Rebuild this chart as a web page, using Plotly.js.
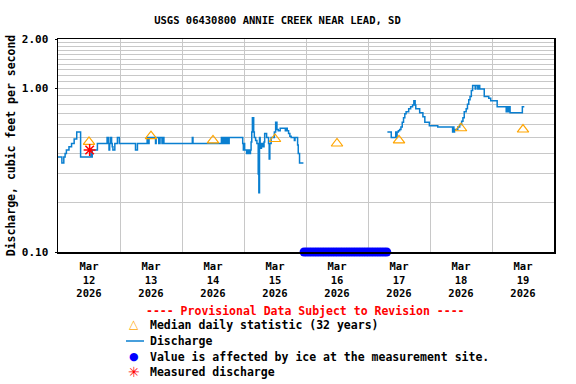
<!DOCTYPE html>
<html>
<head>
<meta charset="utf-8">
<script src="https://cdn.plot.ly/plotly-3.0.1.min.js"></script>
<style>html,body{margin:0;padding:0;background:#fff;}#chart{width:576px;height:384px;}</style>
</head>
<body>
<div id="chart"></div>
<script>
// ---- Data ----
const chartTitle = "USGS 06430800 ANNIE CREEK NEAR LEAD, SD";
const yTitle = "Discharge, cubic feet per second";

const dischargeTimes = [
"2026-03-12 00:00","2026-03-12 01:30","2026-03-12 02:15","2026-03-12 02:45","2026-03-12 03:15","2026-03-12 04:15",
"2026-03-12 05:15","2026-03-12 06:15","2026-03-12 07:15","2026-03-12 08:45","2026-03-12 12:45","2026-03-12 13:00",
"2026-03-12 13:15","2026-03-12 15:15","2026-03-12 19:00","2026-03-12 19:30","2026-03-12 19:45","2026-03-12 20:00",
"2026-03-12 20:15","2026-03-12 20:45","2026-03-12 21:00","2026-03-12 21:15","2026-03-12 22:00","2026-03-12 23:00",
"2026-03-12 23:45","2026-03-13 06:00","2026-03-13 06:45","2026-03-13 10:30","2026-03-13 11:00","2026-03-13 11:15",
"2026-03-13 13:45","2026-03-13 14:00","2026-03-13 15:00","2026-03-13 15:30","2026-03-13 16:15","2026-03-13 16:30",
"2026-03-13 17:00","2026-03-14 04:00","2026-03-14 04:15","2026-03-14 15:15","2026-03-14 15:30","2026-03-14 15:45",
"2026-03-14 16:15","2026-03-14 16:45","2026-03-14 17:00","2026-03-14 17:30","2026-03-14 18:00","2026-03-14 18:15",
"2026-03-14 23:30","2026-03-14 23:45","2026-03-15 00:00","2026-03-15 00:15","2026-03-15 01:00","2026-03-15 01:30",
"2026-03-15 02:00","2026-03-15 02:30","2026-03-15 02:45","2026-03-15 03:00","2026-03-15 03:15","2026-03-15 03:45",
"2026-03-15 04:00","2026-03-15 04:30","2026-03-15 05:00","2026-03-15 05:30","2026-03-15 05:45","2026-03-15 06:00",
"2026-03-15 06:15","2026-03-15 06:45","2026-03-15 07:15","2026-03-15 07:45","2026-03-15 08:00","2026-03-15 08:45",
"2026-03-15 09:30","2026-03-15 09:45","2026-03-15 10:00","2026-03-15 10:30","2026-03-15 11:45","2026-03-15 12:15",
"2026-03-15 12:45","2026-03-15 13:15","2026-03-15 14:00","2026-03-15 16:00","2026-03-15 16:30","2026-03-15 16:45",
"2026-03-15 17:15","2026-03-15 17:45","2026-03-15 18:15","2026-03-15 19:30","2026-03-15 19:45","2026-03-15 20:45",
"2026-03-15 21:00","2026-03-15 21:30","2026-03-15 23:00",
"2026-03-16 12:00",
"2026-03-17 07:30","2026-03-17 09:00","2026-03-17 10:45","2026-03-17 11:00","2026-03-17 11:15","2026-03-17 11:45",
"2026-03-17 12:15","2026-03-17 12:45","2026-03-17 13:15","2026-03-17 13:45","2026-03-17 14:15","2026-03-17 14:45",
"2026-03-17 15:45","2026-03-17 16:30","2026-03-17 17:15","2026-03-17 17:45","2026-03-17 18:15","2026-03-17 18:30",
"2026-03-17 20:00","2026-03-17 21:15","2026-03-17 22:00","2026-03-17 23:45","2026-03-18 03:00","2026-03-18 08:45",
"2026-03-18 09:00","2026-03-18 09:15","2026-03-18 09:30","2026-03-18 10:45","2026-03-18 11:30","2026-03-18 12:15",
"2026-03-18 12:45","2026-03-18 13:15","2026-03-18 14:00","2026-03-18 14:30","2026-03-18 15:00","2026-03-18 15:30",
"2026-03-18 16:00","2026-03-18 16:30","2026-03-18 17:30","2026-03-18 17:45","2026-03-18 18:30","2026-03-18 18:45",
"2026-03-18 19:15","2026-03-18 21:00","2026-03-18 22:45","2026-03-18 23:30","2026-03-19 02:00","2026-03-19 05:30",
"2026-03-19 05:45","2026-03-19 06:15","2026-03-19 06:30","2026-03-19 07:00","2026-03-19 11:45","2026-03-19 12:30"
];
const dischargeValues = [
0.38,0.35,0.38,0.40,0.42,0.44,
0.46,0.49,0.54,0.38,0.42,0.38,
0.42,0.46,0.50,0.46,0.42,0.46,
0.50,0.46,0.44,0.42,0.46,0.50,
0.46,0.42,0.46,0.50,0.46,0.50,
0.46,0.50,0.46,0.50,0.46,0.50,
0.46,0.50,0.46,0.50,0.46,0.50,
0.46,0.50,0.46,0.50,0.46,0.50,
0.46,0.42,0.46,0.42,0.40,0.42,
0.40,0.42,0.47,0.54,0.66,0.54,
0.50,0.48,0.46,0.30,0.23,0.50,
0.43,0.46,0.44,0.47,0.53,0.50,
0.46,0.37,0.46,0.50,0.54,0.62,
0.56,0.55,0.57,0.55,0.57,0.55,
0.53,0.51,0.50,0.48,0.50,0.45,
0.40,0.35,0.35,
null,
0.54,0.50,0.54,0.50,0.54,0.55,
0.56,0.58,0.62,0.66,0.70,0.72,
0.75,0.77,0.79,0.84,0.79,0.75,
0.71,0.67,0.62,0.59,0.58,0.54,
0.58,0.54,0.56,0.58,0.60,0.63,
0.66,0.72,0.75,0.80,0.85,0.89,
0.97,1.04,0.99,1.04,0.99,1.04,
0.99,0.89,0.87,0.84,0.77,0.72,
0.77,0.72,0.77,0.71,0.77,0.77
];

const medianDates = ["2026-03-12 12:00","2026-03-13 12:00","2026-03-14 12:00","2026-03-15 12:00",
                     "2026-03-16 12:00","2026-03-17 12:00","2026-03-18 12:00","2026-03-19 12:00"];
const medianValues = [0.47, 0.51, 0.48, 0.49, 0.46, 0.48, 0.57, 0.56];

const iceTimes = [
"2026-03-15 23:15","2026-03-16 00:15","2026-03-16 01:15","2026-03-16 02:15","2026-03-16 03:15","2026-03-16 04:15",
"2026-03-16 05:15","2026-03-16 06:15","2026-03-16 07:15","2026-03-16 08:15","2026-03-16 09:15","2026-03-16 10:15",
"2026-03-16 11:15","2026-03-16 12:15","2026-03-16 13:15","2026-03-16 14:15","2026-03-16 15:15","2026-03-16 16:15",
"2026-03-16 17:15","2026-03-16 18:15","2026-03-16 19:15","2026-03-16 20:15","2026-03-16 21:15","2026-03-16 22:15",
"2026-03-16 23:15","2026-03-17 00:15","2026-03-17 01:15","2026-03-17 02:15","2026-03-17 03:15","2026-03-17 04:15",
"2026-03-17 05:15","2026-03-17 06:15","2026-03-17 07:15"
];
const iceValue = 0.1;

const measuredTimes = ["2026-03-12 12:15"];
const measuredValues = [0.42];

const xTickVals = ["2026-03-12 12:00","2026-03-13 12:00","2026-03-14 12:00","2026-03-15 12:00",
                   "2026-03-16 12:00","2026-03-17 12:00","2026-03-18 12:00","2026-03-19 12:00"];
const xTickText = ["Mar<br>12<br>2026","Mar<br>13<br>2026","Mar<br>14<br>2026","Mar<br>15<br>2026",
                   "Mar<br>16<br>2026","Mar<br>17<br>2026","Mar<br>18<br>2026","Mar<br>19<br>2026"];
const yTickVals = [0.1, 1, 2];
const yTickText = ["0.10", "1.00", "2.00"];
const yGridVals = [0.2,0.3,0.4,0.5,0.6,0.7,0.8,0.9,1.1,1.2,1.3,1.4,1.5,1.6,1.7,1.8,1.9];

const legendHeader = "---- Provisional Data Subject to Revision ----";
const legendLabels = ["Median daily statistic (32 years)", "Discharge",
                      "Value is affected by ice at the measurement site.", "Measured discharge"];

// ---- Styling ----
const MONO = "DejaVu Sans Mono";
const lineColor = "#0a7fd0";
const gridColor = "#c8c8c8";
const L = 58, R = 554, T = 39, B = 252;
const px = x => (x - L) / (R - L);
const py = y => (B - y) / (B - T);

const traces = [
  { type: "scatter", mode: "lines", name: legendLabels[1], x: dischargeTimes, y: dischargeValues,
    line: { color: lineColor, width: 1.5, shape: "hv" }, connectgaps: false, showlegend: false, hoverinfo: "skip" },
  { type: "scatter", mode: "markers", name: legendLabels[0], x: medianDates, y: medianValues,
    marker: { symbol: "triangle-up-open", size: 10, color: "#ffa500", line: { width: 1.2, color: "#ffa500" } },
    showlegend: false },
  { type: "scatter", mode: "markers", name: legendLabels[2], x: iceTimes, y: iceTimes.map(() => iceValue),
    marker: { symbol: "circle", size: 9, color: "#0000ff" }, cliponaxis: false, showlegend: false },
  { type: "scatter", mode: "markers", name: legendLabels[3], x: measuredTimes, y: measuredValues,
    marker: { symbol: "asterisk-open", size: 10, color: "#ff0000", line: { width: 1.5, color: "#ff0000" } },
    showlegend: false }
];

const rowY = [325, 341, 356.7, 372.3];
const annotations = [
  { text: legendHeader, xref: "paper", yref: "paper", x: px(305), y: py(311), xanchor: "center", yanchor: "middle",
    showarrow: false, font: { family: MONO, size: 11.5, color: "#ff0000", weight: "bold" } }
];
legendLabels.forEach((t, i) => annotations.push({
  text: t, xref: "paper", yref: "paper", x: px(148), y: py(rowY[i]), xanchor: "left", yanchor: "middle",
  showarrow: false, font: { family: MONO, size: 11.5, color: "#000", weight: "bold" }
}));
annotations.push({ text: "△", xref: "paper", yref: "paper", x: px(133.5), y: py(rowY[0] - 1), xanchor: "center", yanchor: "middle",
  showarrow: false, font: { family: "DejaVu Sans", size: 12, color: "#ffa500" } });
annotations.push({ text: "●", xref: "paper", yref: "paper", x: px(133.5), y: py(rowY[2]), xanchor: "center", yanchor: "middle",
  showarrow: false, font: { family: "DejaVu Sans", size: 11, color: "#0000ff" } });
annotations.push({ text: "✳", xref: "paper", yref: "paper", x: px(133.5), y: py(rowY[3]), xanchor: "center", yanchor: "middle",
  showarrow: false, font: { family: "DejaVu Sans", size: 14, color: "#ff0000" } });

const shapes = [
  { type: "line", xref: "paper", yref: "paper", x0: px(126), x1: px(144), y0: py(rowY[1]), y1: py(rowY[1]),
    line: { color: lineColor, width: 1.5 } }
];

const layout = {
  width: 576, height: 384,
  margin: { l: L, r: 576 - R, t: T, b: 384 - B, pad: 0 },
  paper_bgcolor: "#fff", plot_bgcolor: "#fff",
  showlegend: false,
  title: { text: chartTitle, xref: "container", yref: "container", x: 277.5 / 576, y: 1 - 20 / 384,
           xanchor: "center", yanchor: "middle", font: { family: MONO, size: 10.5, color: "#000", weight: "bold" } },
  xaxis: {
    type: "date", range: ["2026-03-12 00:00", "2026-03-20 00:00"],
    tickmode: "array", tickvals: xTickVals, ticktext: xTickText, ticks: "", showgrid: false,
    minor: { tick0: "2026-03-12", dtick: 86400000, showgrid: true, gridcolor: gridColor, gridwidth: 1, ticks: "" },
    showline: true, mirror: true, linecolor: "#000", linewidth: 1.5, zeroline: false,
    tickfont: { family: MONO, size: 10.5, color: "#000", weight: "bold" }, ticklabelstandoff: 4, automargin: false
  },
  yaxis: {
    type: "log", range: [-1, Math.log10(2)],
    tickmode: "array", tickvals: yTickVals, ticktext: yTickText, ticks: "outside", ticklen: 2, tickcolor: "#000",
    showgrid: true, gridcolor: gridColor, gridwidth: 1,
    minor: { tickmode: "array", tickvals: yGridVals, showgrid: true, gridcolor: gridColor, gridwidth: 1, ticks: "" },
    showline: true, mirror: true, linecolor: "#000", linewidth: 1.5, zeroline: false,
    tickfont: { family: MONO, size: 11, color: "#000", weight: "bold" }, ticklabelstandoff: 4, automargin: false,
    title: { text: yTitle, standoff: 4, font: { family: MONO, size: 11.5, color: "#000", weight: "bold" } }
  },
  annotations: annotations,
  shapes: shapes
};

Plotly.newPlot("chart", traces, layout, { staticPlot: true, displayModeBar: false });
</script>
</body>
</html>
